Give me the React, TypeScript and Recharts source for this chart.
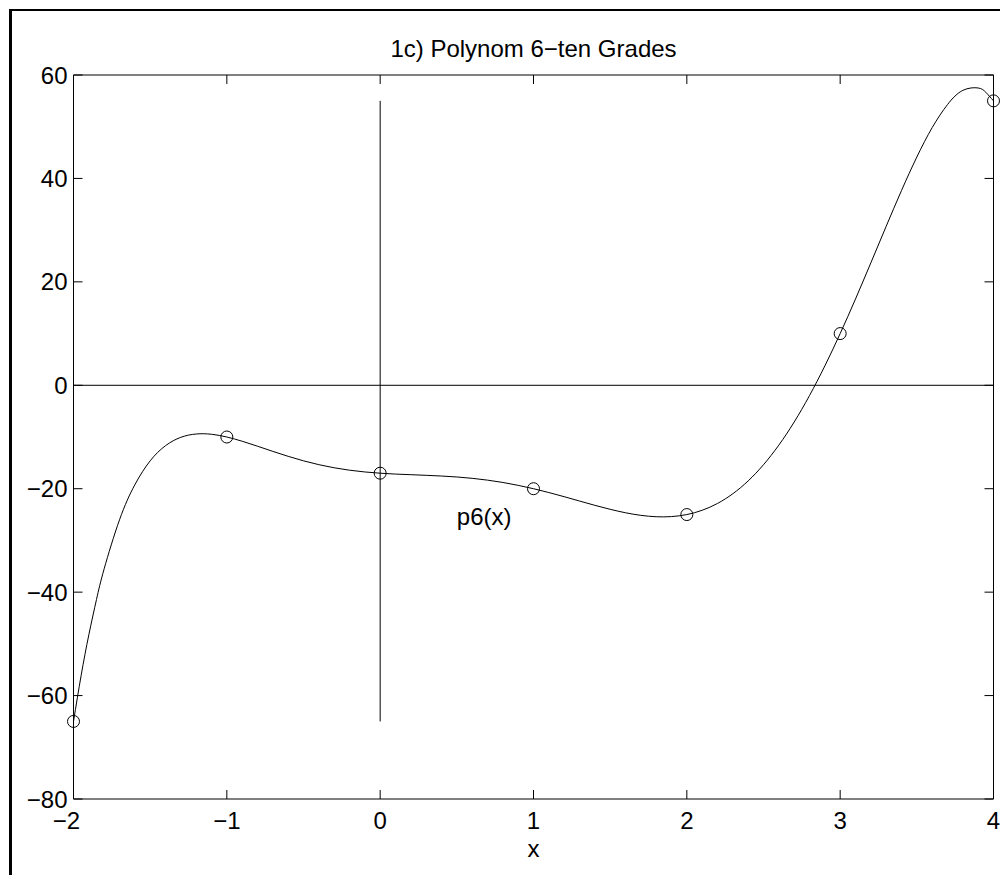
import React from 'react';
import {
  ComposedChart,
  Line,
  Scatter,
  XAxis,
  YAxis,
  ReferenceLine,
  ReferenceDot,
} from 'recharts';

// ---- data ----
const title = '1c) Polynom 6\u2212ten Grades';
const xLabel = 'x';
const curveLabel = 'p6(x)';

const xTicks = [-2, -1, 0, 1, 2, 3, 4];
const yTicks = [-80, -60, -40, -20, 0, 20, 40, 60];
const xDomain = [-2, 4];
const yDomain = [-80, 60];

// measured points (circles)
const pointX = [-2, -1, 0, 1, 2, 3, 4];
const pointY = [-65, -10, -17, -20, -25, 10, 55];

// curve
const curveX = [
  -2, -1.95, -1.9, -1.85, -1.8, -1.7, -1.6, -1.5, -1.4, -1.3, -1.2, -1.1,
  -1, -0.9, -0.8, -0.7, -0.6, -0.5, -0.4, -0.3, -0.2, -0.1,
  0, 0.1, 0.2, 0.3, 0.4, 0.5, 0.6, 0.7, 0.8, 0.9,
  1, 1.1, 1.2, 1.3, 1.4, 1.5, 1.6, 1.7, 1.8, 1.9,
  2, 2.1, 2.2, 2.3, 2.4, 2.5, 2.6, 2.7, 2.8, 2.9,
  3, 3.1, 3.2, 3.3, 3.4, 3.5, 3.6, 3.7, 3.8, 3.9, 3.95, 4,
];
const curveY = [
  -65, -56.08, -48.25, -41.41, -35.49, -26.02, -19.24, -14.61, -11.68, -10.06, -9.42, -9.47,
  -10, -10.82, -11.78, -12.78, -13.74, -14.61, -15.35, -15.95, -16.42, -16.76,
  -17, -17.17, -17.29, -17.41, -17.55, -17.73, -17.99, -18.34, -18.79, -19.35,
  -20, -20.74, -21.54, -22.38, -23.21, -23.98, -24.65, -25.15, -25.42, -25.39,
  -25, -24.17, -22.85, -20.97, -18.49, -15.36, -11.57, -7.11, -1.99, 3.74,
  10, 16.69, 23.67, 30.74, 37.66, 44.14, 49.82, 54.28, 57.03, 57.49, 56.65, 55,
];

// reference lines
const vLineX = 0;
const vLineY = [-65, 55];
const hLineY = 0;
const labelPos = { x: 0.5, y: -27 };

const curveData = curveX.map((x, i) => ({ x, y: curveY[i] }));
const pointData = pointX.map((x, i) => ({ x, y: pointY[i] }));

// ---- styles ----
const FONT = '"Liberation Sans", Arial, Helvetica, sans-serif';
const FS = 24;
const TICK_LEN = 9;
const X_MARGIN = 13;
const Y_MARGIN = 6;

const fmt = (v: number) => String(v).replace('-', '\u2212');

// bottom axis: label + inward tick
const XTickBottom = (props: any) => {
  const { x, y, payload } = props;
  const shift = payload.value === xTicks[0] ? -7 : 0;
  const axisY = y - X_MARGIN;
  return (
    <g>
      <line x1={x} x2={x} y1={axisY} y2={axisY - TICK_LEN} stroke="#000" strokeWidth={1} />
      <text
        x={x + shift}
        y={y}
        dy="0.71em"
        textAnchor="middle"
        fontSize={FS}
        fontFamily={FONT}
        fill="#000"
      >
        {fmt(payload.value)}
      </text>
    </g>
  );
};

// top axis: inward tick only
const XTickTop = (props: any) => {
  const { x, y } = props;
  return <line x1={x} x2={x} y1={y} y2={y + TICK_LEN} stroke="#000" strokeWidth={1} />;
};

// left axis: label + inward tick
const YTickLeft = (props: any) => {
  const { x, y, payload } = props;
  const axisX = x + Y_MARGIN;
  return (
    <g>
      <line x1={axisX} x2={axisX + TICK_LEN} y1={y} y2={y} stroke="#000" strokeWidth={1} />
      <text
        x={x}
        y={y}
        dy="0.355em"
        textAnchor="end"
        fontSize={FS}
        fontFamily={FONT}
        fill="#000"
      >
        {fmt(payload.value)}
      </text>
    </g>
  );
};

// right axis: inward tick only
const YTickRight = (props: any) => {
  const { x, y } = props;
  return <line x1={x} x2={x - TICK_LEN} y1={y} y2={y} stroke="#000" strokeWidth={1} />;
};

const Circle = (props: any) => {
  const { cx, cy } = props;
  return <circle cx={cx} cy={cy} r={6} fill="none" stroke="#000" strokeWidth={1} />;
};

const TextMark = (props: any) => {
  const { cx, cy } = props;
  return (
    <text x={cx} y={cy} fontSize={FS} fontFamily={FONT} fill="#000" textAnchor="start">
      {curveLabel}
    </text>
  );
};

export default function App() {
  return (
    <div
      style={{
        position: 'relative',
        width: 1000,
        height: 867,
        overflow: 'hidden',
        background: '#fff',
      }}
    >
      <div
        style={{
          position: 'absolute',
          left: 1,
          top: 1,
          width: 2000,
          height: 2000,
          borderLeft: '3px solid #000',
          borderTop: '2px solid #000',
          boxSizing: 'border-box',
        }}
      />
      <ComposedChart
        width={1000}
        height={867}
        margin={{ top: 66, right: 13.5, bottom: 0, left: 0 }}
        style={{ position: 'absolute', left: 0, top: 0 }}
      >
        <XAxis
          xAxisId="b"
          type="number"
          dataKey="x"
          domain={xDomain}
          ticks={xTicks}
          orientation="bottom"
          height={76}
          tickSize={0}
          tickMargin={X_MARGIN}
          tickLine={false}
          axisLine={{ stroke: '#000', strokeWidth: 1 }}
          tick={<XTickBottom />}
          interval={0}
          label={{
            value: xLabel,
            position: 'insideBottom',
            offset: 18,
            fill: '#000',
            fontSize: FS,
            fontFamily: FONT,
          }}
        />
        <XAxis
          xAxisId="t"
          type="number"
          dataKey="x"
          domain={xDomain}
          ticks={xTicks}
          orientation="top"
          height={1}
          tickSize={0}
          tickMargin={0}
          tickLine={false}
          axisLine={{ stroke: '#000', strokeWidth: 1 }}
          tick={<XTickTop />}
          interval={0}
          label={{
            value: title,
            position: 'top',
            offset: 17.5,
            fill: '#000',
            fontSize: FS,
            fontFamily: FONT,
          }}
        />
        <YAxis
          yAxisId="l"
          type="number"
          dataKey="y"
          domain={yDomain}
          ticks={yTicks}
          orientation="left"
          width={65.5}
          tickSize={0}
          tickMargin={Y_MARGIN}
          tickLine={false}
          axisLine={{ stroke: '#000', strokeWidth: 1 }}
          tick={<YTickLeft />}
          interval={0}
        />
        <YAxis
          yAxisId="r"
          type="number"
          dataKey="y"
          domain={yDomain}
          ticks={yTicks}
          orientation="right"
          width={1}
          tickSize={0}
          tickMargin={0}
          tickLine={false}
          axisLine={{ stroke: '#000', strokeWidth: 1 }}
          tick={<YTickRight />}
          interval={0}
        />
        <ReferenceLine xAxisId="b" yAxisId="l" y={hLineY} stroke="#000" strokeWidth={1} />
        <ReferenceLine
          xAxisId="b"
          yAxisId="l"
          segment={[
            { x: vLineX, y: vLineY[0] },
            { x: vLineX, y: vLineY[1] },
          ]}
          stroke="#000"
          strokeWidth={1}
        />
        <Line
          xAxisId="b"
          yAxisId="l"
          data={curveData}
          dataKey="y"
          type="natural"
          dot={false}
          activeDot={false}
          stroke="#000"
          strokeWidth={1}
          isAnimationActive={false}
        />
        <Scatter
          xAxisId="t"
          yAxisId="r"
          data={pointData}
          dataKey="y"
          shape={<Circle />}
          isAnimationActive={false}
        />
        <ReferenceDot
          xAxisId="b"
          yAxisId="l"
          x={labelPos.x}
          y={labelPos.y}
          r={0}
          shape={<TextMark />}
        />
      </ComposedChart>
    </div>
  );
}
